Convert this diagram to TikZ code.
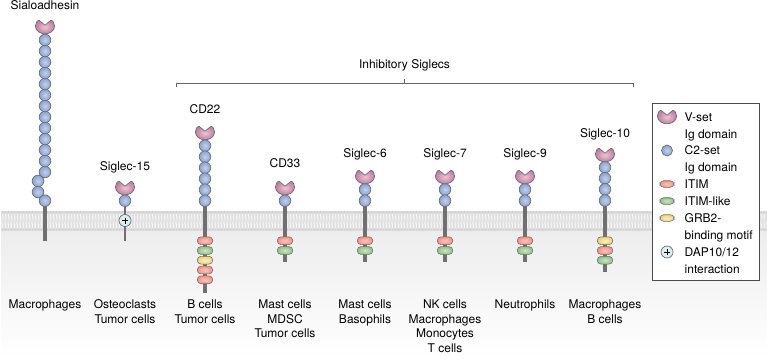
\documentclass[tikz,border=0pt]{standalone}
\usepackage{fontspec}
\setmainfont{TeX Gyre Heros}
\usetikzlibrary{calc}
\definecolor{lipidback}{HTML}{E0E0E0}
\definecolor{lipidhead}{HTML}{D2D2D2}
\definecolor{lipidtail}{HTML}{F4F4F4}
\definecolor{edgegray}{HTML}{6E6E7A}
\definecolor{stalkgray}{HTML}{707070}
\definecolor{cin}{HTML}{C2D2EC}
\definecolor{cout}{HTML}{8AA2CF}
\definecolor{rin}{HTML}{FFC8BA}
\definecolor{rout}{HTML}{F79284}
\definecolor{gin}{HTML}{CDE7BA}
\definecolor{gout}{HTML}{92C289}
\definecolor{yin}{HTML}{FFF0B4}
\definecolor{yout}{HTML}{EDD27A}
\definecolor{pin}{HTML}{EBC6D4}
\definecolor{pout}{HTML}{C27E9F}
\definecolor{dapfill}{HTML}{D7F0F0}
\definecolor{cytotop}{HTML}{EDEDED}
\tikzset{
  x=1pt,y=-1pt,
  lbl/.style={font=\fontsize{12}{14.7}\selectfont,align=center,text=black,inner sep=0pt},
  legendtext/.style={font=\fontsize{12}{13}\selectfont,anchor=base west,inner sep=0pt},
  stalk/.style={line width=3.2pt,draw=stalkgray},
  thinstalk/.style={line width=2.6pt,draw=stalkgray},
  cset/.style={circle,minimum size=11.6pt,inner sep=0pt,draw=edgegray,line width=0.7pt,inner color=cin,outer color=cout},
  motif/.style={rounded corners=3.7pt,minimum width=15.4pt,minimum height=7.8pt,inner sep=0pt,draw=edgegray,line width=0.6pt},
  itim/.style={motif,inner color=rin,outer color=rout},
  itimlike/.style={motif,inner color=gin,outer color=gout},
  grb/.style={motif,inner color=yin,outer color=yout},
  dap/.style={circle,minimum size=12pt,inner sep=0pt,draw=edgegray,line width=0.7pt,fill=dapfill},
  bracketline/.style={draw=black!60,line width=0.6pt},
  vfill/.style={draw=edgegray,line width=0.7pt,inner color=pin,outer color=pout}
}
% V-set domain: a wide rounded cup with a shallow notch in its upper edge
\newcommand{\vset}[2]{%
  \path[vfill,shift={(#1,#2)}]
    (0,-1.8) -- (5.8,-6.6) .. controls (7.4,-7.2) and (9.6,-3.6) .. (9.6,-1)
    .. controls (9.6,3.8) and (4.8,6.8) .. (0,6.8)
    .. controls (-4.8,6.8) and (-9.6,3.8) .. (-9.6,-1)
    .. controls (-9.6,-3.6) and (-7.4,-7.2) .. (-5.8,-6.6) -- cycle;}
\newcommand{\dapmark}[3]{%
  \node[dap] (#1) at (#2,#3) {};
  \draw[line width=0.7pt,black] (#2-3,#3) -- (#2+3,#3) (#2,#3-3) -- (#2,#3+3);}
\begin{document}
\begin{tikzpicture}
\useasboundingbox (0,0) rectangle (767,361);
\fill[white] (0,0) rectangle (767,361);
% cytoplasm gradient and lipid bilayer
\shade[top color=cytotop,bottom color=white] (1,231) rectangle (767,359);
\fill[lipidback] (1,211) rectangle (767,231);
\foreach \i in {0,...,255} {
  \pgfmathsetmacro{\px}{2.5+3*\i}
  \draw[lipidtail,line width=1.1pt] (\px,214) -- (\px+0.5,220.5) (\px,228) -- (\px-0.5,221.5);
  \fill[lipidhead] (\px,212.4) circle (1.3);
  \fill[lipidhead] (\px,229.6) circle (1.3);
}
% bracket over the inhibitory family
\draw[bracketline] (176.5,87) -- (176.5,83.5) -- (633,83.5) -- (633,87);
\draw[bracketline] (404.5,83.5) -- (404.5,79);
\node[lbl] (inh) at (404.5,65) {Inhibitory Siglecs};
% Sialoadhesin
\coordinate (a0) at (45,201); \coordinate (a1) at (45,241);
\draw[stalk] (a0) -- (a1);
\foreach \y in {172,161,150,139,128,117,106,95,84,73,62,51,40} \node[cset] at (45,\y) {};
\node[cset] at (38,181) {};
\node[cset] at (38,192) {};
\node[cset] at (45,200.7) {};
\vset{45}{27}
\node[lbl] (t1) at (45,5) {Sialoadhesin};
% Siglec-15
\coordinate (b0) at (125,201); \coordinate (b1) at (125,241);
\draw[thinstalk] (b0) -- (b1);
\node[cset] at (125,200.7) {};
\vset{125}{188}
\dapmark{d15}{125}{220.5}
\node[lbl] (t2) at (125,167) {Siglec-15};
% CD22
\coordinate (c0) at (205,201); \coordinate (c1) at (205,293);
\draw[stalk] (c0) -- (c1);
\foreach \y in {145.7,156.7,167.7,178.7,189.7,200.7} \node[cset] at (205,\y) {};
\vset{205}{133}
\node[lbl] (t3) at (205,109) {CD22};
\node[itim] at (205,240.7) {};
\node[itimlike] at (205,250.5) {};
\node[grb] at (205,260.2) {};
\node[itim] at (205,270) {};
\node[itim] at (205,279.8) {};
% CD33
\coordinate (e0) at (285,201); \coordinate (e1) at (285,262);
\draw[stalk] (e0) -- (e1);
\node[cset] at (285,200.7) {};
\vset{285}{188}
\node[lbl] (t4) at (285,163) {CD33};
\node[itim] at (285,240.7) {};
\node[itimlike] at (285,250.5) {};
% Siglec-6, -7 and -9 share one layout
\foreach \x/\n/\nm in {365/Siglec-6/f,445/Siglec-7/g,525/Siglec-9/h} {
  \coordinate (\nm0) at (\x,201); \coordinate (\nm1) at (\x,262);
  \draw[stalk] (\nm0) -- (\nm1);
  \node[cset] at (\x,189.5) {};
  \node[cset] at (\x,200.7) {};
  \vset{\x}{177}
  \node[lbl] (t\nm) at (\x,154) {\n};
  \node[itim] at (\x,240.7) {};
  \node[itimlike] at (\x,250.5) {};
}
% Siglec-10
\coordinate (k0) at (605,201); \coordinate (k1) at (605,272);
\draw[stalk] (k0) -- (k1);
\foreach \y in {167.3,178.3,189.3,200.5} \node[cset] at (605,\y) {};
\vset{605}{155}
\node[lbl] (t10) at (605,134.5) {Siglec-10};
\node[grb] at (605,240.7) {};
\node[itim] at (605,250.5) {};
\node[itimlike] at (605,260.2) {};
% cell types
\node[lbl,anchor=north] (m1) at (45,299.5) {Macrophages};
\node[lbl,anchor=north] (m2) at (125,299.5) {Osteoclasts\\Tumor cells};
\node[lbl,anchor=north] (m3) at (205,299.5) {B cells\\Tumor cells};
\node[lbl,anchor=north] (m4) at (285,299.5) {Mast cells\\MDSC\\Tumor cells};
\node[lbl,anchor=north] (m5) at (365,299.5) {Mast cells\\Basophils};
\node[lbl,anchor=north] (m6) at (445,299.5) {NK cells\\Macrophages\\Monocytes\\T cells};
\node[lbl,anchor=north] (m7) at (525,299.5) {Neutrophils};
\node[lbl,anchor=north] (m8) at (605,299.5) {Macrophages\\B cells};
% key
\node[draw=black!70,line width=0.6pt,fill=white,minimum width=107pt,minimum height=177pt,inner sep=0pt] (key) at (705.5,191.5) {};
\vset{667}{117}
\node[cset,minimum size=11pt] (k2) at (667,150.5) {};
\node[itim,minimum width=14pt,minimum height=6.6pt] (k3) at (667,184) {};
\node[itimlike,minimum width=14pt,minimum height=6.6pt] (k4) at (667,201) {};
\node[grb,minimum width=14pt,minimum height=6.6pt] (k5) at (667,218) {};
\dapmark{k6}{667}{252}
\foreach \y/\t in {121/V-set,138/Ig domain,154.5/C2-set,171.5/Ig domain,188.5/ITIM,205.5/ITIM-like,222/GRB2-,239/binding motif,256/{DAP10/12},273/interaction}
  \node[legendtext] at (684.5,\y) {\t};
\end{tikzpicture}
\end{document}
